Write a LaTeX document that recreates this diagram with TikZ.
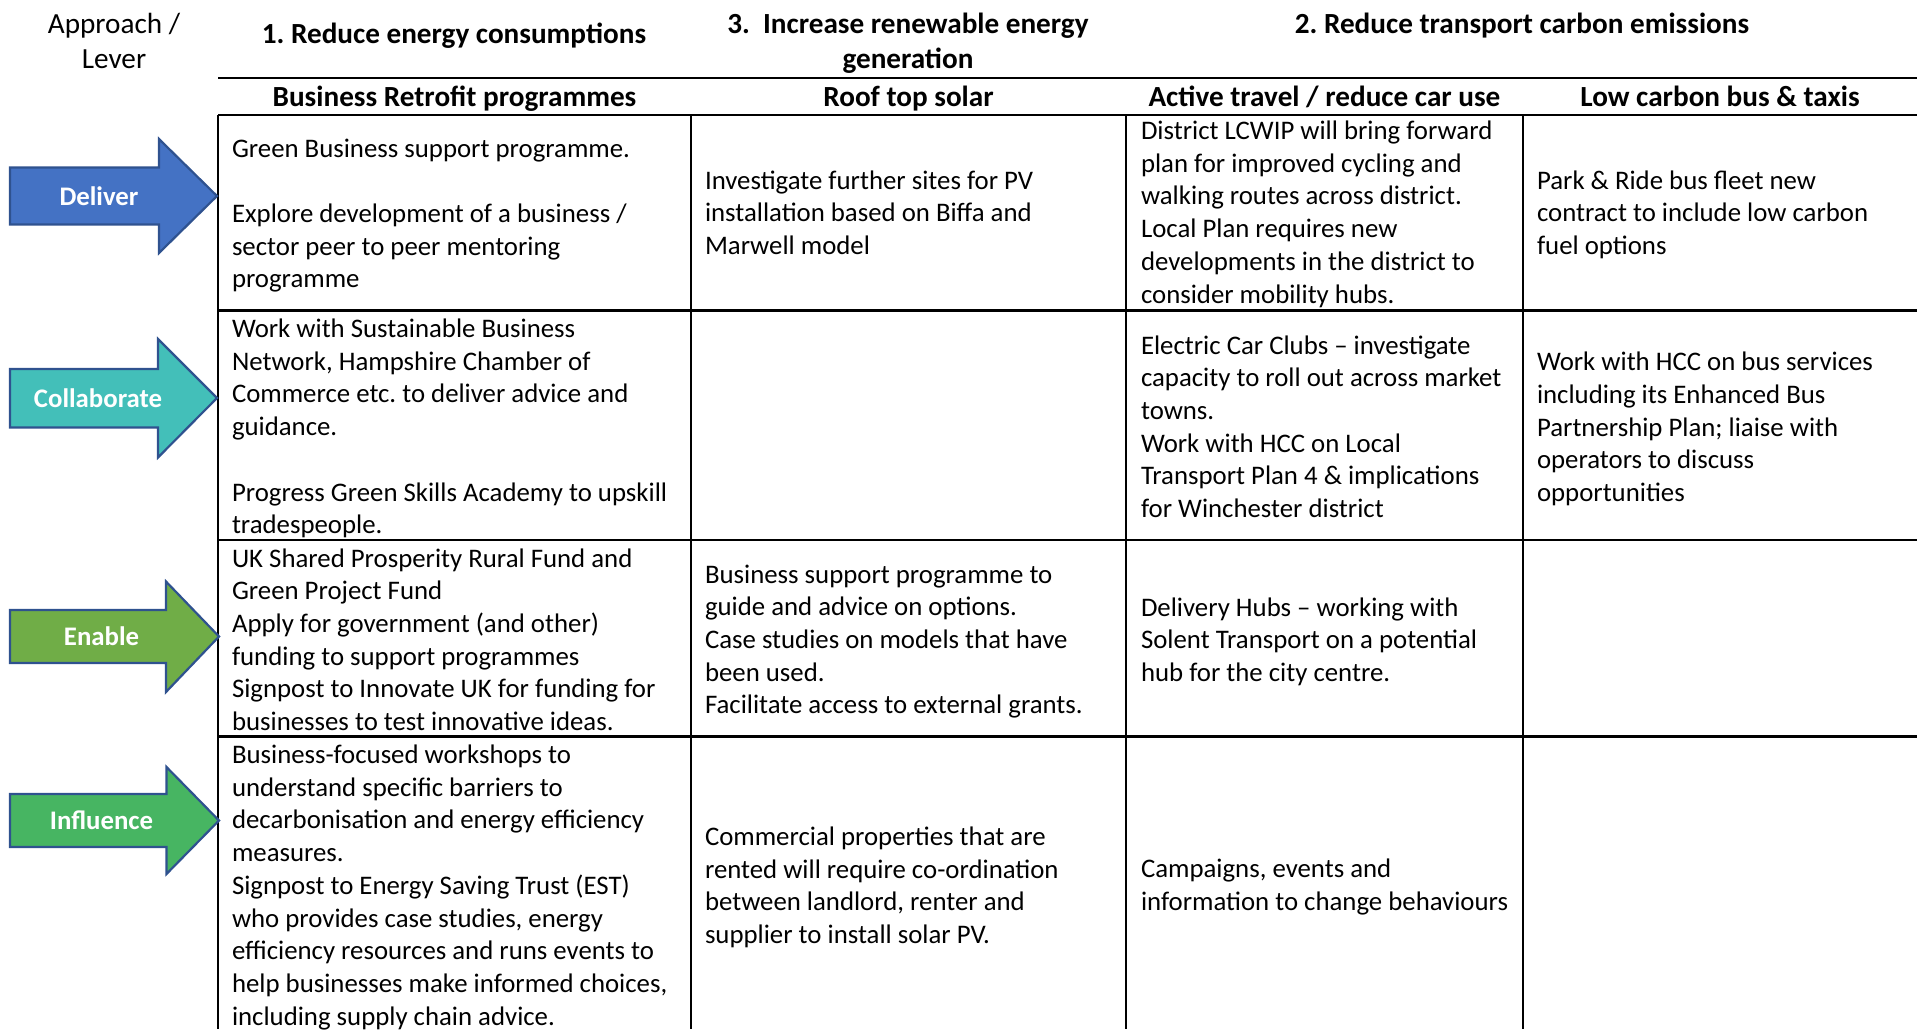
\documentclass[tikz,border=0pt]{standalone}
\usepackage{fontspec}
\setmainfont{Carlito}
\frenchspacing
\definecolor{deliverblue}{HTML}{4472C4}
\definecolor{collabteal}{HTML}{43BFB9}
\definecolor{enablegreen}{HTML}{70AD47}
\definecolor{influgreen}{HTML}{47B562}
\definecolor{arrowline}{HTML}{2F528F}
\begin{document}
\begin{tikzpicture}[x=1pt,y=-1pt,
  cell/.style={anchor=base west,inner sep=0pt,outer sep=0pt,align=left,
    font=\fontsize{26.8}{32.7}\selectfont},
  head/.style={anchor=base,inner sep=0pt,outer sep=0pt,align=center,
    font=\bfseries\fontsize{29.2}{35.3}\selectfont},
  lever/.style={anchor=base,inner sep=0pt,outer sep=0pt,align=center,
    font=\fontsize{29.2}{35.3}\selectfont},
  grid/.style={line width=2.4pt,black},
  arrowshape/.style={line width=2.2pt,draw=arrowline,line join=miter},
  arrowlabel/.style={anchor=base,inner sep=0pt,text=white,
    font=\bfseries\fontsize{26.8}{30}\selectfont}
]
\useasboundingbox (0,0) rectangle (1917,1029);

% ---- headers (base anchor = baseline of last line) ----
\node[lever] (lever) at (114,68.3) {Approach /\\Lever};
\node[head] (h1) at (454,43.3) {1. Reduce energy consumptions};
\node[head] (h3) at (908,68.3) {3.\ \ Increase renewable energy\\generation};
\node[head] (h2) at (1522,33.5) {2. Reduce transport carbon emissions};
\node[head] (s1) at (454.5,106) {Business Retrofit programmes};
\node[head] (s2) at (908.5,106) {Roof top solar};
\node[head] (s3) at (1324.5,106) {Active travel / reduce car use};
\node[head] (s4) at (1720,106) {Low carbon bus \& taxis};

% ---- table grid ----
\draw[grid] (218,78) -- (1917,78);
\draw[grid] (218,115) -- (1917,115);
\draw[grid] (218,310.5) -- (1917,310.5);
\draw[grid] (218,540) -- (1917,540);
\draw[grid] (218,736.5) -- (1917,736.5);
\draw[grid] (218,115) -- (218,1029);
\draw[grid] (691,115) -- (691,1029);
\draw[grid] (1126,115) -- (1126,1029);
\draw[grid] (1523,115) -- (1523,1029);

% ---- arrows ----
\fill[deliverblue] (10,167.5) -- (159,167.5) -- (159,139) -- (217,196) -- (159,253) -- (159,224.5) -- (10,224.5) -- cycle;
\draw[arrowshape] (10,167.5) -- (159,167.5) -- (159,139) -- (217,196) -- (159,253) -- (159,224.5) -- (10,224.5) -- cycle;
\node[arrowlabel] (deliver) at (99,205) {Deliver};

\fill[collabteal] (10,369) -- (158,369) -- (158,339) -- (217,398) -- (158,457.5) -- (158,427.5) -- (10,427.5) -- cycle;
\draw[arrowshape] (10,369) -- (158,369) -- (158,339) -- (217,398) -- (158,457.5) -- (158,427.5) -- (10,427.5) -- cycle;
\node[arrowlabel] (collaborate) at (98,407) {Collaborate};

\fill[enablegreen] (10,610) -- (166,610) -- (166,581.5) -- (219,636.5) -- (166,692) -- (166,663) -- (10,663) -- cycle;
\draw[arrowshape] (10,610) -- (166,610) -- (166,581.5) -- (219,636.5) -- (166,692) -- (166,663) -- (10,663) -- cycle;
\node[arrowlabel] (enable) at (101.5,645.5) {Enable};

\fill[influgreen] (10,794) -- (166.5,794) -- (166.5,767) -- (219,820.5) -- (166.5,874) -- (166.5,847) -- (10,847) -- cycle;
\draw[arrowshape] (10,794) -- (166.5,794) -- (166.5,767) -- (219,820.5) -- (166.5,874) -- (166.5,847) -- (10,847) -- cycle;
\node[arrowlabel] (influence) at (101.5,829.5) {Influence};

% ---- row 1: Deliver ----
\node[cell] (c11) at (232,287.8) {Green Business support programme.\\[32.7pt]Explore development of a business /\\sector peer to peer mentoring\\programme};
\node[cell] (c12) at (705,254.5) {Investigate further sites for PV\\installation based on Biffa and\\Marwell model};
\node[cell] (c13) at (1141,303) {District LCWIP will bring forward\\plan for improved cycling and\\walking routes across district.\\Local Plan requires new\\developments in the district to\\consider mobility hubs.};
\node[cell] (c14) at (1537,254.5) {Park \& Ride bus fleet new\\contract to include low carbon\\fuel options};

% ---- row 2: Collaborate ----
\node[cell] (c21) at (232,533.7) {Work with Sustainable Business\\Network, Hampshire Chamber of\\Commerce etc. to deliver advice and\\guidance.\\[32.7pt]Progress Green Skills Academy to upskill\\tradespeople.};
\node[cell] (c23) at (1141,517.5) {Electric Car Clubs – investigate\\capacity to roll out across market\\towns.\\Work with HCC on Local\\Transport Plan 4 \& implications\\for Winchester district};
\node[cell] (c24) at (1537,501.5) {Work with HCC on bus services\\including its Enhanced Bus\\Partnership Plan; liaise with\\operators to discuss\\opportunities};

% ---- row 3: Enable ----
\node[cell] (c31) at (232,730.5) {UK Shared Prosperity Rural Fund and\\Green Project Fund\\Apply for government (and other)\\funding to support programmes\\Signpost to Innovate UK for funding for\\businesses to test innovative ideas.};
\node[cell] (c32) at (705,713.8) {Business support programme to\\guide and advice on options.\\Case studies on models that have\\been used.\\Facilitate access to external grants.};
\node[cell] (c33) at (1141,681.4) {Delivery Hubs – working with\\Solent Transport on a potential\\hub for the city centre.};

% ---- row 4: Influence ----
\node[cell] (c41) at (232,1025.1) {Business-focused workshops to\\understand specific barriers to\\decarbonisation and energy efficiency\\measures.\\Signpost to Energy Saving Trust (EST)\\who provides case studies, energy\\efficiency resources and runs events to\\help businesses make informed choices,\\including supply chain advice.};
\node[cell] (c42) at (705,943.6) {Commercial properties that are\\rented will require co-ordination\\between landlord, renter and\\supplier to install solar PV.};
\node[cell] (c43) at (1141,910.2) {Campaigns, events and\\information to change behaviours};
\end{tikzpicture}
\end{document}
